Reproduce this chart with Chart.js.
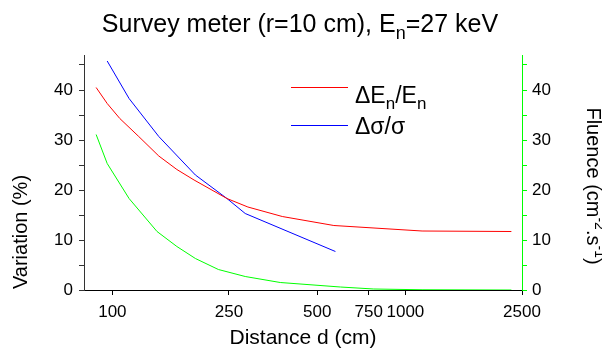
<!DOCTYPE html>
<html>
<head>
<meta charset="utf-8">
<script src="https://cdn.jsdelivr.net/npm/chart.js@4/dist/chart.umd.min.js"></script>
<style>
  body { margin: 0; background: #fff; }
  canvas { display: block; }
</style>
</head>
<body>
<canvas id="chart" width="602" height="351"></canvas>
<script>
// Data
const xTicks = [100, 250, 500, 750, 1000, 2500];
const yTicks = [0, 5, 10, 15, 20, 25, 30, 35, 40, 45];

// ΔEn/En (%)
const energyX = [88, 96, 106, 123, 144, 166, 190, 246, 290, 380, 570, 1140, 2300];
const energyY = [40.5, 37.3, 34.3, 30.7, 26.8, 24.1, 22, 18.3, 16.6, 14.7, 12.9, 11.8, 11.7];

// Δσ/σ (%)
const sigmaX = [96, 114, 144, 192, 246, 284, 577];
const sigmaY = [45.8, 38.3, 30.7, 23, 18.3, 15.3, 7.7];

// Fluence (cm^-2.s^-1), right axis
const fluenceX = [88, 96, 114, 142, 166, 192, 230, 284, 374, 600, 780, 1140, 2300];
const fluenceY = [31.1, 25.3, 18.3, 11.7, 8.7, 6.3, 4.1, 2.7, 1.5, 0.6, 0.2, 0.05, 0];

const FONT = '"Liberation Sans", Arial, sans-serif';

function toPoints(xs, ys) {
    return xs.map((x, i) => ({ x, y: ys[i] }));
}

// Draw text made of plain / sub / sup pieces, starting at x (left) on baseline y
function richWidth(ctx, parts, size) {
    let w = 0;
    parts.forEach(p => {
        ctx.font = `${p.sub || p.sup ? Math.round(size * 0.72) : size}px ${FONT}`;
        w += ctx.measureText(p.t).width;
    });
    return w;
}

function drawRich(ctx, parts, x, y, size) {
    let cx = x;
    parts.forEach(p => {
        const small = p.sub || p.sup;
        ctx.font = `${small ? Math.round(size * 0.72) : size}px ${FONT}`;
        let dy = 0;
        if (p.sub) dy = size * 0.28;
        if (p.sup) dy = -size * 0.42;
        ctx.fillText(p.t, cx, y + dy);
        cx += ctx.measureText(p.t).width;
    });
}

// Titles, axis titles and legend with sub/superscripts
const textPlugin = {
    id: 'texts',
    afterDraw(chart) {
        const ctx = chart.ctx;
        const area = chart.chartArea;
        ctx.save();
        ctx.fillStyle = '#000';
        ctx.textBaseline = 'alphabetic';
        ctx.textAlign = 'left';

        // main title
        const title = [{ t: 'Survey meter (r=10 cm), E' }, { t: 'n', sub: true }, { t: '=27 keV' }];
        const tw = richWidth(ctx, title, 25);
        drawRich(ctx, title, 300 - tw / 2, 32, 25);

        // x axis title
        const xt = [{ t: 'Distance d (cm)' }];
        const xw = richWidth(ctx, xt, 21);
        drawRich(ctx, xt, (area.left + area.right) / 2 - xw / 2, 344, 21);

        // left axis title
        const lt = [{ t: 'Variation (%)' }];
        const lw = richWidth(ctx, lt, 20);
        ctx.save();
        ctx.translate(27, 232);
        ctx.rotate(-Math.PI / 2);
        drawRich(ctx, lt, -lw / 2, 0, 20);
        ctx.restore();

        // right axis title
        const rt = [{ t: 'Fluence (cm' }, { t: '-2', sup: true }, { t: '.s' }, { t: '-1', sup: true }, { t: ')' }];
        const rw = richWidth(ctx, rt, 20);
        ctx.save();
        ctx.translate(587, 186);
        ctx.rotate(Math.PI / 2);
        drawRich(ctx, rt, -rw / 2, 0, 20);
        ctx.restore();

        // legend
        ctx.lineWidth = 1;
        ctx.strokeStyle = 'rgb(255,0,0)';
        ctx.beginPath();
        ctx.moveTo(291, 87.5);
        ctx.lineTo(348, 87.5);
        ctx.stroke();
        drawRich(ctx, [{ t: '\u0394E' }, { t: 'n', sub: true }, { t: '/E' }, { t: 'n', sub: true }], 355, 103, 23);

        ctx.strokeStyle = 'rgb(0,0,255)';
        ctx.beginPath();
        ctx.moveTo(291, 125.5);
        ctx.lineTo(348, 125.5);
        ctx.stroke();
        drawRich(ctx, [{ t: '\u0394\u03c3/\u03c3' }], 355, 134, 23);

        ctx.restore();
    }
};

function yAxis(position, lineColor, width) {
    return {
        type: 'linear',
        position,
        min: 0,
        max: 47,
        afterBuildTicks: (scale) => {
            scale.ticks = yTicks.map(v => ({ value: v }));
        },
        afterFit: (scale) => {
            scale.width = width;
        },
        ticks: {
            color: '#000',
            padding: position === 'left' ? 6 : 5,
            font: { family: FONT, size: 17 },
            callback: (v) => (v % 10 === 0 ? String(v) : '')
        },
        grid: { drawOnChartArea: false, tickLength: 5, color: lineColor },
        border: { color: lineColor, width: 1 }
    };
}

const ctx = document.getElementById('chart').getContext('2d');
new Chart(ctx, {
    type: 'line',
    data: {
        datasets: [
            {
                label: '\u0394En/En',
                data: toPoints(energyX, energyY),
                borderColor: 'rgb(255,0,0)',
                borderWidth: 1,
                pointRadius: 0,
                tension: 0,
                yAxisID: 'y'
            },
            {
                label: '\u0394\u03c3/\u03c3',
                data: toPoints(sigmaX, sigmaY),
                borderColor: 'rgb(0,0,255)',
                borderWidth: 1,
                pointRadius: 0,
                tension: 0,
                yAxisID: 'y'
            },
            {
                label: 'Fluence',
                data: toPoints(fluenceX, fluenceY),
                borderColor: 'rgb(0,255,0)',
                borderWidth: 1,
                pointRadius: 0,
                tension: 0,
                yAxisID: 'y2'
            }
        ]
    },
    options: {
        responsive: false,
        animation: false,
        devicePixelRatio: 1,
        layout: { padding: { top: 55, left: 0, right: 0, bottom: 0 } },
        plugins: {
            legend: { display: false },
            title: { display: false },
            tooltip: { enabled: false }
        },
        scales: {
            x: {
                type: 'logarithmic',
                position: 'bottom',
                min: 80,
                max: 2500,
                afterBuildTicks: (scale) => {
                    scale.ticks = xTicks.map(v => ({ value: v }));
                },
                afterFit: (scale) => {
                    scale.height = 61;
                },
                ticks: {
                    autoSkip: false,
                    maxRotation: 0,
                    minRotation: 0,
                    color: '#000',
                    padding: 7,
                    font: { family: FONT, size: 17 },
                    callback: (v) => String(v)
                },
                grid: { drawOnChartArea: false, tickLength: 5, color: '#000' },
                border: { color: '#000', width: 1 }
            },
            y: yAxis('left', '#333', 84),
            y2: yAxis('right', 'rgb(0,255,0)', 80)
        }
    },
    plugins: [textPlugin]
});
</script>
</body>
</html>
